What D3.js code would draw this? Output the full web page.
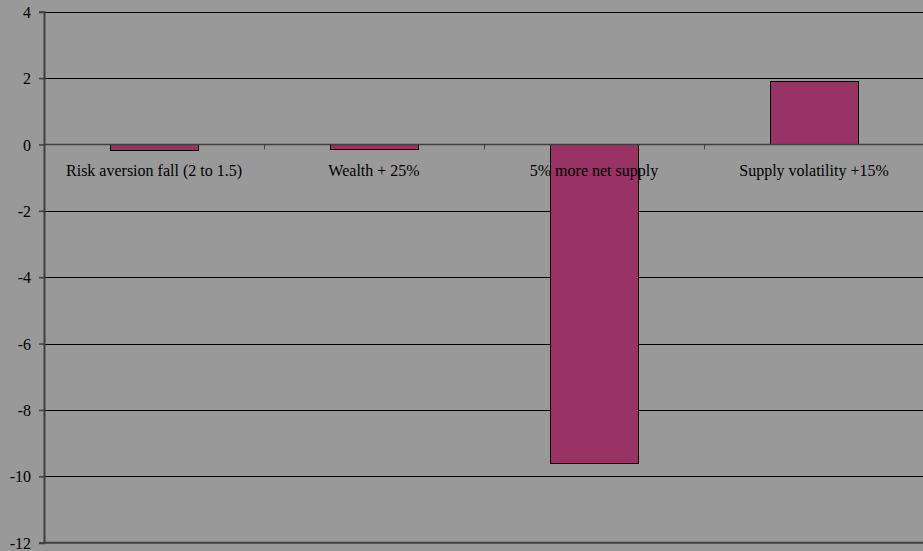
<!DOCTYPE html>
<html><head><meta charset="utf-8">
<script src="https://cdn.jsdelivr.net/npm/d3@7"></script>
<style>body{margin:0;background:#999999;}svg{display:block;}</style>
</head><body>
<svg id="c" width="923" height="551"></svg>
<script>
const categories = ["Risk aversion fall (2 to 1.5)", "Wealth + 25%", "5% more net supply", "Supply volatility +15%"];
const values = [-0.18, -0.14, -9.6, 1.9];
const yTicks = [4, 2, 0, -2, -4, -6, -8, -10, -12];

const svg = d3.select("#c");
const W = 923, H = 551;
const m = {left: 44, right: -1, top: 11.7, bottom: 8.3};
svg.append("rect").attr("width", W).attr("height", H).attr("fill", "#999999");

const x = d3.scaleBand().domain(categories).range([m.left, W - m.right]).paddingInner(0.6).paddingOuter(0.3);
const xb = d3.scaleBand().domain(categories).range([m.left, W - m.right]);
const y = d3.scaleLinear().domain([-12, 4]).range([H - m.bottom, m.top]);

// gridlines
svg.append("g").selectAll("line").data(yTicks.filter(d => d !== 0 && d !== -12)).join("line")
  .attr("x1", m.left).attr("x2", W).attr("y1", d => Math.round(y(d)) + 0.5).attr("y2", d => Math.round(y(d)) + 0.5)
  .attr("stroke", "#000").attr("stroke-width", 1);

// bars
svg.append("g").selectAll("rect").data(values).join("rect")
  .attr("x", (d, i) => Math.round(x(categories[i])) + 0.5)
  .attr("width", Math.round(x.bandwidth()))
  .attr("y", d => Math.round(y(Math.max(0, d))) + 0.5)
  .attr("height", d => Math.round(Math.abs(y(d) - y(0))))
  .attr("fill", "#993366").attr("stroke", "#000").attr("stroke-width", 1);

// y axis
const yAxis = d3.axisLeft(y).tickValues(yTicks).tickSize(5).tickFormat(d => String(d));
const gy = svg.append("g").attr("transform", `translate(${m.left},0)`).call(yAxis);
gy.select(".domain").attr("stroke", "#404040").attr("stroke-width", 2);
gy.selectAll(".tick line").attr("stroke", "#404040").attr("stroke-width", 1.5);
gy.selectAll(".tick text").attr("font-family", "'Liberation Serif', 'Times New Roman', serif")
  .attr("font-size", 16).attr("fill", "#000").attr("x", -13).attr("dy", "0.35em");

// zero line and bottom line
svg.append("line").attr("x1", m.left).attr("x2", W).attr("y1", y(0)).attr("y2", y(0))
  .attr("stroke", "#404040").attr("stroke-width", 1.5);
svg.append("line").attr("x1", m.left).attr("x2", W).attr("y1", y(-12)).attr("y2", y(-12))
  .attr("stroke", "#404040").attr("stroke-width", 2);

// category ticks on zero line
const gx = svg.append("g").attr("transform", `translate(0,${y(0)})`);
gx.selectAll("line").data(categories.slice(1)).join("line")
  .attr("x1", d => Math.round(xb(d)) + 0.5).attr("x2", d => Math.round(xb(d)) + 0.5)
  .attr("y1", 0).attr("y2", 5).attr("stroke", "#404040").attr("stroke-width", 1);

// category labels
svg.append("g").selectAll("text").data(categories).join("text")
  .attr("x", d => xb(d) + xb.bandwidth() / 2).attr("y", y(0) + 32)
  .attr("text-anchor", "middle")
  .attr("font-family", "'Liberation Serif', 'Times New Roman', serif")
  .attr("font-size", 16).attr("fill", "#000").text(d => d);
</script>
</body></html>
